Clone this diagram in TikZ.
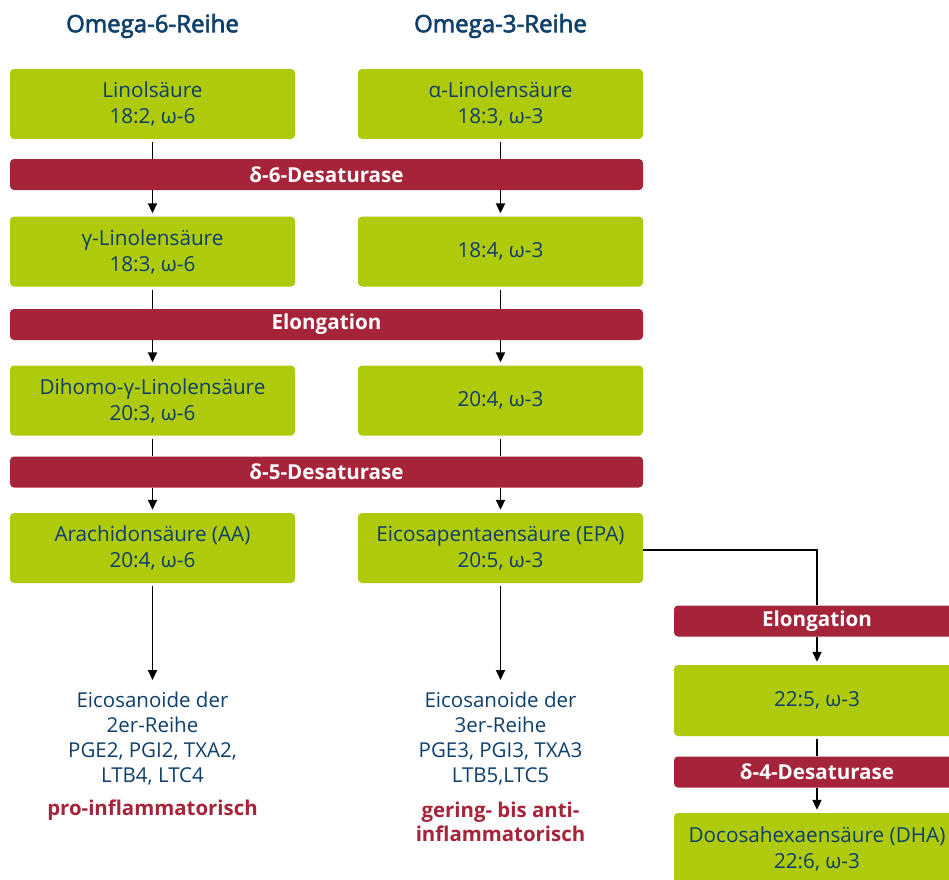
\documentclass[tikz,border=0pt]{standalone}
\usepackage{fontspec}
\setmainfont{Open Sans}
\newfontfamily\hdrfont{Open Sans}[FakeBold=2.6]
\usetikzlibrary{arrows.meta}
\definecolor{lgreen}{HTML}{AFCA0B}
\definecolor{dred}{HTML}{A6243A}
\definecolor{dblue}{HTML}{0F3F6B}
\tikzset{
  acid/.style={draw=none,fill=lgreen,rounded corners=4pt,minimum width=285pt,minimum height=70pt,
    align=center,text=dblue,font=\fontsize{20.7}{26}\selectfont,inner sep=0pt},
  enzyme/.style={draw=none,fill=dred,rounded corners=4pt,minimum height=31pt,
    text=white,font=\fontsize{20.6}{24}\selectfont\bfseries,inner sep=0pt},
  header/.style={text=dblue,font=\hdrfont\fontsize{24}{26}\selectfont},
  product/.style={align=center,text=dblue,font=\fontsize{20.5}{25}\selectfont,inner sep=0pt},
  effect/.style={align=center,text=dred,font=\fontsize{20.4}{24}\selectfont\bfseries,inner sep=0pt},
  conn/.style={line width=1.8pt,draw=black},
  arr/.style={conn,-{Triangle[length=10pt,width=9pt]}}
}
\begin{document}
\begin{tikzpicture}[x=1pt,y=-1pt]
\useasboundingbox (0,0) rectangle (949,879);
\clip (0,0) rectangle (949,879);
\fill[white] (0,0) rectangle (949,879);
% headers
\node[header] (h6) at (152.5,26) {Omega-6-Reihe};
\node[header] (h3) at (500.5,26) {Omega-3-Reihe};
% row 1
\node[acid] (a1) at (152.5,104) {Linolsäure\\18:2, ω-6};
\node[acid] (b1) at (500.5,104) {α-Linolensäure\\18:3, ω-3};
\node[enzyme,minimum width=633pt] (e1) at (326.5,174.5) {δ-6-Desaturase};
% row 2
\node[acid] (a2) at (152.5,251.5) {γ-Linolensäure\\18:3, ω-6};
\node[acid] (b2) at (500.5,251.5) {18:4, ω-3};
\node[enzyme,minimum width=633pt] (e2) at (326.5,324.5) {Elongation};
% row 3
\node[acid] (a3) at (152.5,400.5) {Dihomo-γ-Linolensäure\\20:3, ω-6};
\node[acid] (b3) at (500.5,400.5) {20:4, ω-3};
\node[enzyme,minimum width=633pt] (e3) at (326.5,472) {δ-5-Desaturase};
% row 4
\node[acid] (a4) at (152.5,548) {Arachidonsäure (AA)\\20:4, ω-6};
\node[acid] (b4) at (500.5,548) {Eicosapentaensäure (EPA)\\20:5, ω-3};
% right branch
\node[enzyme,minimum width=286pt] (e4) at (817,621) {Elongation};
\node[acid,minimum width=286pt,minimum height=71pt] (c1) at (817,700.5) {22:5, ω-3};
\node[enzyme,minimum width=286pt] (e5) at (817,772) {δ-4-Desaturase};
\node[acid,minimum width=286pt,minimum height=71pt] (c2) at (817,848.5) {Docosahexaensäure (DHA)\\22:6, ω-3};
% products
\node[product,anchor=north] (pa) at (152.5,692) {Eicosanoide der\\2er-Reihe\\PGE2, PGI2, TXA2,\\LTB4, LTC4};
\node[effect] (fa) at (152.5,810) {pro-inflammatorisch};
\node[product,anchor=north] (pb) at (500.5,692) {Eicosanoide der\\3er-Reihe\\PGE3, PGI3, TXA3\\LTB5,LTC5};
\node[effect] (fb) at (500.5,822) {gering- bis anti-\\inflammatorisch};
% connectors
\foreach \u/\e/\d in {a1/e1/a2,b1/e1/b2,a2/e2/a3,b2/e2/b3,a3/e3/a4,b3/e3/b4}{
  \draw[conn,shorten <=3pt] (\u.south) -- (\u.south |- \e.north);
  \draw[arr,shorten >=3pt] (\u.south |- \e.south) -- (\d.north);
}
\draw[arr,shorten <=3pt] (a4.south) -- ([yshift=12pt]pa.north);
\draw[arr,shorten <=3pt] (b4.south) -- ([yshift=12pt]pb.north);
\draw[conn] ([yshift=-2pt]b4.east) -| (e4.north);
\draw[arr,shorten >=3pt] (e4.south) -- (c1.north);
\draw[conn,shorten <=3pt] (c1.south) -- (e5.north);
\draw[arr,shorten >=3pt] (e5.south) -- (c2.north);
\end{tikzpicture}
\end{document}
